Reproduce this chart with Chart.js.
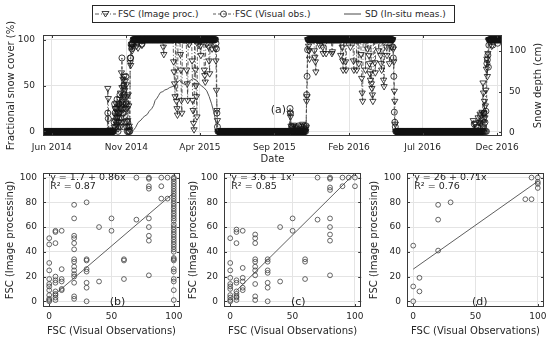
<!DOCTYPE html>
<html>
<head>
<meta charset="utf-8">
<script src="https://cdn.jsdelivr.net/npm/chart.js@4.4.1/dist/chart.umd.min.js"></script>
<style>
  body { margin: 0; width: 550px; height: 341px; background: #fff; position: relative; overflow: hidden;
         font-family: 'DejaVu Sans', sans-serif; color: #262626; }
  canvas { position: absolute; }
  #legend { position: absolute; left: 92px; top: 5px; width: 361px; height: 16px; border: 1px solid #262626;
            background: #fff; font-size: 9px; line-height: 16px; }
  #legend svg, #legend span { position: absolute; top: 0; white-space: nowrap; }
</style>
</head>
<body>
<canvas id="cTop" width="550" height="165" style="left:0;top:0"></canvas>
<canvas id="cB" width="186" height="176" style="left:0;top:165px"></canvas>
<canvas id="cC" width="183" height="176" style="left:183px;top:165px"></canvas>
<canvas id="cD" width="186" height="176" style="left:364px;top:165px"></canvas>

<div id="legend">
  <svg style="left:2px" width="21" height="16">
    <line x1="0" y1="8" x2="21" y2="8" stroke="#333" stroke-width="0.8" stroke-dasharray="4 2 1 2"/>
    <polygon points="7,5.5 14,5.5 10.5,11" fill="none" stroke="#111" stroke-width="0.8"/>
  </svg>
  <span style="left:25px">FSC (Image proc.)</span>
  <svg style="left:120px" width="21" height="16">
    <line x1="0" y1="8" x2="21" y2="8" stroke="#333" stroke-width="0.8" stroke-dasharray="3 2"/>
    <circle cx="10.5" cy="8" r="3" fill="none" stroke="#111" stroke-width="0.8"/>
  </svg>
  <span style="left:142px">FSC (Visual obs.)</span>
  <svg style="left:251px" width="17" height="16">
    <line x1="0" y1="8" x2="17" y2="8" stroke="#333" stroke-width="0.9"/>
  </svg>
  <span style="left:272px">SD (In-situ meas.)</span>
</div>

<script>
// ---------- data ----------
var xTickDates = ["2014-06-01", "2014-11-01", "2015-04-01", "2015-09-01", "2016-02-01", "2016-07-01", "2016-12-01"];
var xTickLabels = ["Jun 2014", "Nov 2014", "Apr 2015", "Sep 2015", "Feb 2016", "Jul 2016", "Dec 2016"];

var imgRuns = [
  ["2014-05-16", "2014-10-06", 0],
  ["2014-11-16", "2015-05-02", 100],
  ["2015-05-08", "2015-11-05", 0],
  ["2015-11-08", "2016-05-01", 100],
  ["2016-05-07", "2016-11-01", 0],
  ["2016-11-14", "2016-12-08", 100]
];
var imgPoints = [
  ["2014-09-24", 47], ["2014-09-25", 36], ["2014-10-04", 2],
  ["2014-10-07", 5], ["2014-10-08", 12], ["2014-10-09", 25], ["2014-10-10", 18], ["2014-10-11", 30],
  ["2014-10-12", 8], ["2014-10-13", 22], ["2014-10-14", 15], ["2014-10-15", 3], ["2014-10-16", 28],
  ["2014-10-17", 10], ["2014-10-18", 35], ["2014-10-19", 20], ["2014-10-20", 42], ["2014-10-21", 27],
  ["2014-10-22", 64], ["2014-10-23", 48], ["2014-10-24", 33], ["2014-10-25", 57], ["2014-10-26", 24],
  ["2014-10-27", 38], ["2014-10-28", 60], ["2014-10-29", 45], ["2014-10-30", 55], ["2014-10-31", 30],
  ["2014-11-01", 51], ["2014-11-02", 38], ["2014-11-03", 25], ["2014-11-04", 12], ["2014-11-05", 40],
  ["2014-11-06", 28], ["2014-11-07", 6], ["2014-11-08", 2], ["2014-11-09", 75], ["2014-11-10", 72],
  ["2014-11-11", 92], ["2014-11-12", 95], ["2014-11-13", 88], ["2014-11-14", 93], ["2014-11-15", 97],
  ["2014-11-22", 93], ["2014-11-25", 91], ["2014-12-03", 94], ["2015-01-16", 92], ["2015-01-17", 84],
  ["2015-02-06", 76], ["2015-02-07", 65], ["2015-02-08", 52], ["2015-02-09", 38],
  ["2015-02-12", 33], ["2015-02-13", 25], ["2015-02-14", 18],
  ["2015-02-20", 84], ["2015-02-21", 67], ["2015-02-22", 34], ["2015-02-23", 20],
  ["2015-03-05", 67], ["2015-03-06", 52], ["2015-03-07", 34], ["2015-03-10", 95],
  ["2015-03-16", 77], ["2015-03-17", 34], ["2015-03-18", 23], ["2015-03-19", 9], ["2015-03-20", 2],
  ["2015-03-23", 67], ["2015-03-24", 50], ["2015-03-25", 38], ["2015-03-26", 16], ["2015-03-29", 94],
  ["2015-04-02", 93], ["2015-04-03", 83], ["2015-04-10", 67], ["2015-04-11", 61], ["2015-04-12", 54],
  ["2015-04-15", 95], ["2015-04-19", 92], ["2015-04-20", 77], ["2015-04-21", 63], ["2015-04-26", 90],
  ["2015-05-03", 90], ["2015-05-04", 77], ["2015-05-05", 45], ["2015-05-06", 23], ["2015-05-07", 12],
  ["2015-10-03", 20], ["2015-10-04", 16], ["2015-10-05", 6], ["2015-10-08", 4], ["2015-10-10", 7],
  ["2015-10-12", 3], ["2015-10-15", 5], ["2015-10-19", 2], ["2015-10-22", 6], ["2015-10-26", 3],
  ["2015-10-29", 8], ["2015-11-01", 4], ["2015-11-03", 2], ["2015-11-05", 5],
  ["2015-11-06", 33], ["2015-11-07", 38],
  ["2015-11-10", 93], ["2015-11-11", 88], ["2015-11-12", 79],
  ["2015-11-22", 88], ["2015-11-23", 81], ["2015-11-24", 76], ["2015-11-25", 65],
  ["2015-12-03", 94], ["2015-12-09", 92], ["2015-12-10", 85], ["2015-12-16", 85],
  ["2015-12-28", 85], ["2015-12-29", 87], ["2016-01-15", 83],
  ["2016-01-18", 92], ["2016-01-19", 77], ["2016-01-20", 67], ["2016-01-25", 76], ["2016-01-26", 67],
  ["2016-02-04", 92], ["2016-02-10", 77], ["2016-02-11", 67], ["2016-02-17", 67], ["2016-02-21", 74],
  ["2016-02-26", 84], ["2016-02-27", 58], ["2016-02-28", 42], ["2016-02-29", 33],
  ["2016-03-06", 67], ["2016-03-10", 90],
  ["2016-03-13", 83], ["2016-03-14", 74], ["2016-03-15", 63], ["2016-03-16", 56],
  ["2016-03-18", 52], ["2016-03-19", 47], ["2016-03-20", 40], ["2016-03-21", 33],
  ["2016-03-25", 75], ["2016-03-26", 64], ["2016-04-02", 88],
  ["2016-04-06", 83], ["2016-04-07", 74], ["2016-04-08", 67], ["2016-04-12", 56], ["2016-04-13", 49],
  ["2016-04-18", 92], ["2016-04-19", 83], ["2016-04-24", 74], ["2016-04-28", 92],
  ["2016-05-02", 90], ["2016-05-03", 76], ["2016-05-04", 44], ["2016-05-05", 33], ["2016-05-06", 8],
  ["2016-10-13", 12], ["2016-10-16", 8], ["2016-10-20", 5], ["2016-10-23", 15], ["2016-10-25", 10],
  ["2016-10-27", 19], ["2016-10-29", 9], ["2016-10-31", 21],
  ["2016-11-02", 53], ["2016-11-03", 42], ["2016-11-04", 20], ["2016-11-05", 33], ["2016-11-06", 15],
  ["2016-11-07", 28], ["2016-11-08", 45], ["2016-11-09", 68], ["2016-11-10", 79], ["2016-11-11", 60],
  ["2016-11-12", 85], ["2016-11-13", 99], ["2016-11-20", 93]
];

var visRuns = [
  ["2014-05-16", "2014-10-06", 0],
  ["2014-11-16", "2015-05-02", 100],
  ["2015-05-09", "2015-11-04", 0],
  ["2015-11-09", "2016-04-30", 100],
  ["2016-05-07", "2016-11-09", 0],
  ["2016-11-15", "2016-12-08", 100]
];
var visPoints = [
  ["2014-09-24", 20], ["2014-09-25", 14],
  ["2014-10-07", 10], ["2014-10-08", 30], ["2014-10-09", 20], ["2014-10-10", 5], ["2014-10-11", 25],
  ["2014-10-12", 15], ["2014-10-13", 35], ["2014-10-14", 10], ["2014-10-15", 0], ["2014-10-16", 20],
  ["2014-10-17", 30], ["2014-10-18", 5], ["2014-10-19", 40], ["2014-10-20", 15], ["2014-10-21", 25],
  ["2014-10-22", 10], ["2014-10-23", 80], ["2014-10-24", 30], ["2014-10-25", 20], ["2014-10-26", 5],
  ["2014-10-27", 50], ["2014-10-28", 40], ["2014-10-29", 10], ["2014-10-30", 25], ["2014-10-31", 60],
  ["2014-11-01", 30], ["2014-11-02", 5], ["2014-11-03", 0], ["2014-11-04", 10], ["2014-11-05", 0],
  ["2014-11-06", 5], ["2014-11-07", 0], ["2014-11-08", 0], ["2014-11-09", 80], ["2014-11-10", 80],
  ["2014-11-11", 95], ["2014-11-12", 90], ["2014-11-13", 95], ["2014-11-14", 95], ["2014-11-15", 100],
  ["2014-12-03", 95],
  ["2015-05-03", 100], ["2015-05-04", 96], ["2015-05-05", 90], ["2015-05-06", 20], ["2015-05-07", 5], ["2015-05-08", 0],
  ["2015-10-03", 25], ["2015-10-04", 20], ["2015-10-06", 5], ["2015-10-09", 5], ["2015-10-16", 3],
  ["2015-10-20", 6], ["2015-10-28", 5], ["2015-11-01", 6], ["2015-11-03", 2],
  ["2015-11-05", 6], ["2015-11-06", 40], ["2015-11-07", 60], ["2015-11-08", 89],
  ["2016-05-01", 92], ["2016-05-02", 80], ["2016-05-03", 60], ["2016-05-04", 21], ["2016-05-05", 10], ["2016-05-06", 5],
  ["2016-10-15", 8], ["2016-10-22", 5], ["2016-10-28", 17], ["2016-11-01", 12], ["2016-11-04", 20],
  ["2016-11-06", 10], ["2016-11-08", 22], ["2016-11-10", 74], ["2016-11-11", 78], ["2016-11-12", 83],
  ["2016-11-13", 70], ["2016-11-14", 94], ["2016-11-22", 94], ["2016-12-02", 96]
];

var sdDates = ["2014-11-11", "2014-11-15", "2014-11-20", "2014-11-25", "2014-12-01", "2014-12-05", "2014-12-09",
  "2014-12-14", "2014-12-18", "2014-12-23", "2014-12-27", "2014-12-30", "2015-01-03", "2015-01-06",
  "2015-01-10", "2015-01-15", "2015-01-19", "2015-01-24", "2015-01-29", "2015-02-03", "2015-02-07",
  "2015-02-12", "2015-02-18", "2015-02-23", "2015-02-28", "2015-03-04", "2015-03-08", "2015-03-13",
  "2015-03-18", "2015-03-22", "2015-03-25", "2015-03-30", "2015-04-04", "2015-04-09", "2015-04-15",
  "2015-04-20", "2015-04-25", "2015-04-29", "2015-05-02", "2015-05-05", "2015-05-07"];
var sdValues = [0, 2, 6, 12, 15, 18, 20, 22, 26, 29, 33, 39, 42, 45, 49, 50, 52, 53, 55, 56, 57,
  60, 64, 61, 59, 59, 62, 64, 66, 65, 64, 60, 57, 55, 51, 44, 35, 26, 18, 8, 2];

// scatter panels: [visual FSC, [image FSC values]]
var panelB = [
  [0, [51, 46, 31, 25, 18, 14, 12, 9, 5, 2, 1, 0]],
  [5, [57, 56, 47, 20, 17, 15, 8, 6, 5, 3, 1]],
  [10, [57, 26, 18, 16, 10, 9]],
  [20, [78, 67, 53, 51, 47, 42, 34, 32, 28, 25, 22, 20, 15, 4, 2]],
  [30, [80, 34, 33, 26, 24, 15, 11, 0]],
  [40, [60, 16]],
  [50, [67, 57]],
  [60, [34, 33, 18]],
  [70, [100, 66]],
  [80, [100, 99, 93, 91, 67, 60, 53, 49, 21]],
  [90, [100, 93, 83]],
  [95, [100, 83]],
  [100, [100, 99, 97, 95, 93, 91, 89, 87, 85, 83, 81, 79, 77, 75, 73, 71, 69, 67, 65, 62, 60, 58, 56,
         54, 52, 50, 48, 46, 44, 42, 40, 35, 34, 33, 26, 24, 18, 16, 9, 1]]
];
var panelC = [
  [0, [51, 31, 25, 19, 14, 12, 10, 5, 3, 1, 0]],
  [5, [58, 56, 47, 17, 15, 8, 6, 4, 3, 1]],
  [10, [57, 27, 19, 16, 11, 9]],
  [20, [54, 51, 47, 34, 32, 28, 25, 21, 14, 4, 1]],
  [30, [34, 32, 25, 23, 15, 11, 0]],
  [40, [60, 16]],
  [50, [67, 57]],
  [60, [34, 32, 18]],
  [70, [100, 66]],
  [80, [100, 99, 92, 90, 67, 60, 54, 49, 21]],
  [90, [100, 93]],
  [95, [100]],
  [100, [100, 93]]
];
var panelD = [
  [0, [45, 12, 0]],
  [5, [19, 8]],
  [20, [78, 66, 41]],
  [30, [80]],
  [90, [82.5]],
  [95, [82.5, 100]],
  [100, [100, 96.5, 95, 91.6]]
];
var fitB = [[7, 7.7], [100, 87.7]];
var fitC = [[5, 8.6], [100, 103.6]];
var fitD = [[0, 26], [100, 97]];
var eqB = ["y = 1.7 + 0.86x", "R\u00b2 = 0.87"];
var eqC = ["y = 3.6 + 1x", "R\u00b2 = 0.85"];
var eqD = ["y = 26 + 0.71x", "R\u00b2 = 0.76"];

// ---------- helpers ----------
var DAY = 864e5;
function t(s) { return Date.parse(s + "T00:00:00Z"); }

function daily(runs, points) {
  var taken = {};
  points.forEach(function(p) { taken[t(p[0])] = true; });
  var out = [];
  runs.forEach(function(r) {
    for (var d = t(r[0]); d <= t(r[1]); d += DAY) if (!taken[d]) out.push({ x: d, y: r[2] });
  });
  points.forEach(function(p) { out.push({ x: t(p[0]), y: p[1] }); });
  return out.sort(function(a, b) { return a.x - b.x; });
}

function fixTicks(vals) {
  return function(s) { s.ticks = vals.map(function(v) { return { value: v }; }); };
}
function fixWidth(w) {
  return function(s) { s.width = w; s.paddingTop = 0; s.paddingBottom = 0; };
}
function fixHeight(h) {
  return function(s) { s.height = h; s.paddingLeft = 0; s.paddingRight = 0; };
}

Chart.defaults.font.family = "'DejaVu Sans', sans-serif";
Chart.defaults.font.size = 9;
Chart.defaults.color = "#262626";

var GRID = "#e4e4e4";

// box, inward ticks and free texts
var framePlugin = {
  id: "frame",
  afterDatasetsDraw: function(chart, args, o) {
    var ctx = chart.ctx, a = chart.chartArea, L = 3;
    ctx.save();
    ctx.strokeStyle = "#3a3a3a";
    ctx.lineWidth = 1;
    ctx.beginPath();
    Object.keys(chart.scales).forEach(function(k) {
      var s = chart.scales[k];
      s.ticks.forEach(function(tk) {
        var p = Math.round(s.getPixelForValue(tk.value)) + 0.5;
        if (s.isHorizontal()) {
          ctx.moveTo(p, a.bottom); ctx.lineTo(p, a.bottom - L);
          ctx.moveTo(p, a.top); ctx.lineTo(p, a.top + L);
        } else if (s.position === "left") {
          ctx.moveTo(a.left, p); ctx.lineTo(a.left + L, p);
          if (o.mirror) { ctx.moveTo(a.right, p); ctx.lineTo(a.right - L, p); }
        } else {
          ctx.moveTo(a.right, p); ctx.lineTo(a.right - L, p);
        }
      });
    });
    ctx.stroke();
    ctx.strokeRect(Math.round(a.left) + 0.5, Math.round(a.top) + 0.5,
                   Math.round(a.right - a.left) - 1, Math.round(a.bottom - a.top) - 1);
    (o.notes || []).forEach(function(n) {
      var x, y;
      if (n.px !== undefined) { x = n.px; y = (a.top + a.bottom) / 2; }
      else { x = chart.scales.x.getPixelForValue(n.x); y = chart.scales[n.axis || "y"].getPixelForValue(n.y); }
      ctx.save();
      ctx.font = (n.size || 9) + "px 'DejaVu Sans'";
      ctx.fillStyle = "#262626";
      ctx.textAlign = n.align || "center";
      ctx.textBaseline = "middle";
      ctx.translate(x, y);
      if (n.rot) ctx.rotate(n.rot * Math.PI / 180);
      ctx.fillText(n.text, 0, 0);
      ctx.restore();
    });
    ctx.restore();
  }
};

// ---------- top panel ----------
new Chart(document.getElementById("cTop"), {
  type: "line",
  data: {
    datasets: [
      {
        label: "FSC (Image proc.)", data: daily(imgRuns, imgPoints), yAxisID: "y", order: 2,
        borderColor: "#333", borderWidth: 0.8, borderDash: [4, 2, 1, 2],
        pointStyle: "triangle", pointRotation: 180, pointRadius: 3.6,
        pointBorderColor: "#111", pointBackgroundColor: "rgba(0,0,0,0)", pointBorderWidth: 0.8
      },
      {
        label: "FSC (Visual obs.)", data: daily(visRuns, visPoints), yAxisID: "y", order: 1,
        borderColor: "#333", borderWidth: 0.8, borderDash: [3, 2],
        pointStyle: "circle", pointRadius: 3,
        pointBorderColor: "#111", pointBackgroundColor: "rgba(0,0,0,0)", pointBorderWidth: 0.8
      },
      {
        label: "SD (In-situ meas.)", yAxisID: "y1", order: 0,
        data: sdDates.map(function(d, i) { return { x: t(d), y: sdValues[i] }; }),
        borderColor: "#444", borderWidth: 0.9, pointRadius: 0
      }
    ]
  },
  options: {
    responsive: false, animation: false, events: [],
    layout: { padding: { top: 35, left: 0, right: 0, bottom: 0 } },
    plugins: {
      legend: { display: false }, tooltip: { enabled: false },
      frame: {
        notes: [
          { text: "(a)", x: t("2015-09-09"), y: 23, size: 11 },
          { text: "Fractional snow cover (%)", px: 11, rot: -90, size: 10 },
          { text: "Snow depth (cm)", px: 538, rot: -90, size: 10 }
        ]
      }
    },
    scales: {
      x: {
        type: "linear", min: t("2014-05-14"), max: t("2016-12-11"),
        afterBuildTicks: fixTicks(xTickDates.map(t)), afterFit: fixHeight(29),
        ticks: { padding: 6, maxRotation: 0, autoSkip: false,
                 callback: function(v, i) { return xTickLabels[i]; } },
        grid: { color: GRID, drawTicks: false }, border: { display: false },
        title: { display: true, text: "Date", font: { size: 10 }, padding: { top: 0, bottom: 0 } }
      },
      y: {
        position: "left", min: -5, max: 105,
        afterBuildTicks: fixTicks([0, 50, 100]), afterFit: fixWidth(43),
        ticks: { padding: 8 },
        grid: { color: GRID, drawTicks: false }, border: { display: false }
      },
      y1: {
        position: "right", min: -4.5, max: 119.5,
        afterBuildTicks: fixTicks([0, 50, 100]), afterFit: fixWidth(48),
        ticks: { padding: 7 },
        grid: { display: false, drawTicks: false }, border: { display: false }
      }
    }
  },
  plugins: [framePlugin]
});

// ---------- scatter panels ----------
function scatterPanel(id, cols, fit, eq, tag, tagX, yWidth, padRight) {
  var pts = [];
  cols.forEach(function(c) { c[1].forEach(function(v) { pts.push({ x: c[0], y: v }); }); });
  return new Chart(document.getElementById(id), {
    type: "scatter",
    data: {
      datasets: [
        { data: pts, pointStyle: "circle", pointRadius: 2.4, pointBorderColor: "#404040",
          pointBackgroundColor: "rgba(0,0,0,0)", pointBorderWidth: 0.8 },
        { data: fit.map(function(p) { return { x: p[0], y: p[1] }; }), showLine: true,
          borderColor: "#4d4d4d", borderWidth: 0.9, pointRadius: 0 }
      ]
    },
    options: {
      responsive: false, animation: false, events: [],
      layout: { padding: { top: 8, left: 0, right: padRight, bottom: 0 } },
      plugins: {
        legend: { display: false }, tooltip: { enabled: false },
        frame: {
          mirror: true,
          notes: [
            { text: eq[0], x: 0.8, y: 100, align: "left", size: 9.5 },
            { text: eq[1], x: 0.8, y: 92.5, align: "left", size: 9.5 },
            { text: tag, x: tagX, y: -0.5, size: 11 }
          ]
        }
      },
      scales: {
        x: {
          type: "linear", min: -5, max: 105,
          afterBuildTicks: fixTicks([0, 50, 100]), afterFit: fixHeight(34),
          ticks: { padding: 4, maxRotation: 0, autoSkip: false },
          grid: { color: GRID, drawTicks: false }, border: { display: false },
          title: { display: true, text: "FSC (Visual Observations)", font: { size: 10 } }
        },
        y: {
          type: "linear", position: "left", min: -4.6, max: 103.7,
          afterBuildTicks: fixTicks([0, 20, 40, 60, 80, 100]), afterFit: fixWidth(yWidth),
          ticks: { padding: 6 },
          grid: { color: GRID, drawTicks: false }, border: { display: false },
          title: { display: true, text: "FSC (Image processing)", font: { size: 10 } }
        }
      }
    },
    plugins: [framePlugin]
  });
}

scatterPanel("cB", panelB, fitB, eqB, "(b)", 54.8, 43, 6);
scatterPanel("cC", panelC, fitC, eqC, "(c)", 54.5, 41, 4);
scatterPanel("cD", panelD, fitD, eqD, "(d)", 53.4, 43, 6);
</script>
</body>
</html>
